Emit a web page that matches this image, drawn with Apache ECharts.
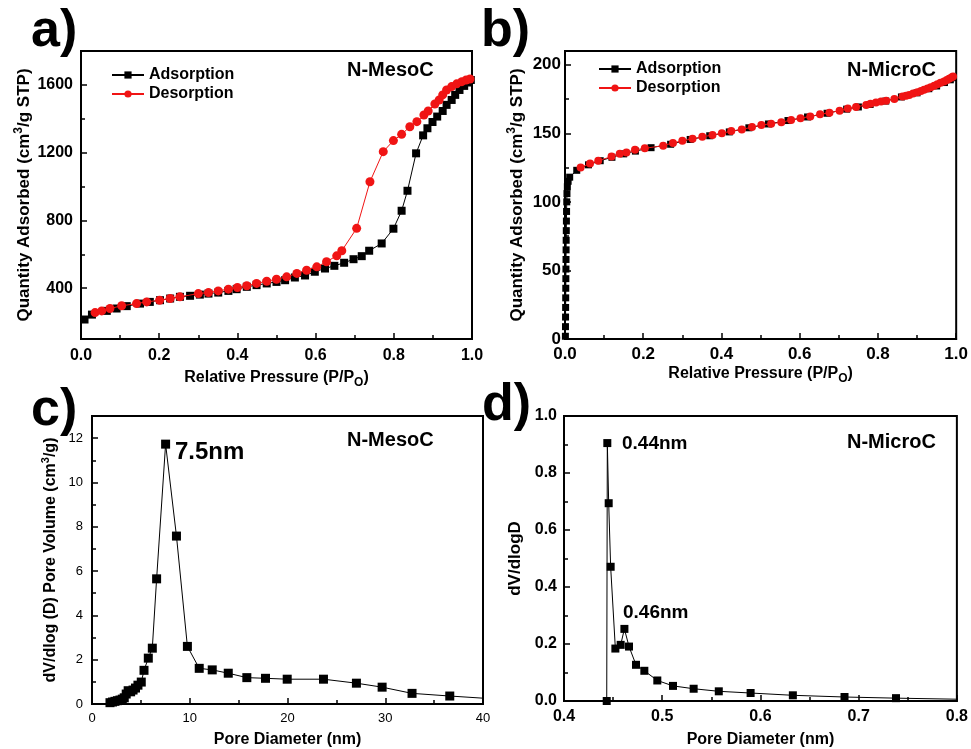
<!DOCTYPE html>
<html>
<head>
<meta charset="utf-8">
<script src="https://cdn.jsdelivr.net/npm/echarts@6/dist/echarts.min.js"></script>
<style>
  html, body { margin: 0; background: #fff; }
  #main { width: 971px; height: 749px; }
</style>
</head>
<body>
<div id="main"></div>
<script>
// a) N-MesoC isotherm
const mesoAdsX = [0.009, 0.028, 0.066, 0.091, 0.117, 0.151, 0.176, 0.202, 0.228, 0.253, 0.279, 0.304, 0.326, 0.351, 0.377, 0.398, 0.424, 0.449, 0.475, 0.50, 0.522, 0.547, 0.573, 0.598, 0.624, 0.648, 0.673, 0.697, 0.718, 0.737, 0.769, 0.799, 0.82, 0.835, 0.857, 0.875, 0.886, 0.899, 0.911, 0.925, 0.935, 0.948, 0.957, 0.968, 0.980, 0.991, 0.997];
const mesoAdsY = [215, 244, 266, 280, 294, 309, 319, 329, 339, 349, 355, 362, 368, 374, 384, 394, 408, 418, 428, 437, 447, 463, 475, 497, 516, 532, 550, 571, 589, 621, 664, 751, 857, 975, 1196, 1302, 1344, 1381, 1413, 1446, 1482, 1511, 1541, 1570, 1594, 1614, 1629];
const mesoDesX = [0.036, 0.053, 0.074, 0.104, 0.142, 0.168, 0.201, 0.228, 0.253, 0.30, 0.326, 0.351, 0.377, 0.40, 0.424, 0.449, 0.475, 0.50, 0.526, 0.552, 0.577, 0.603, 0.628, 0.654, 0.667, 0.705, 0.739, 0.773, 0.799, 0.820, 0.841, 0.859, 0.877, 0.888, 0.905, 0.916, 0.925, 0.935, 0.948, 0.961, 0.974, 0.985, 0.995];
const mesoDesY = [256, 266, 280, 296, 309, 319, 329, 339, 349, 368, 374, 384, 394, 404, 414, 428, 441, 453, 467, 487, 506, 526, 556, 591, 621, 753, 1028, 1206, 1271, 1308, 1353, 1383, 1422, 1446, 1487, 1511, 1541, 1570, 1590, 1606, 1619, 1629, 1635];

// b) N-MicroC isotherm
const microAdsX = [0.001, 0.0012, 0.0014, 0.0016, 0.0018, 0.002, 0.0022, 0.0024, 0.0026, 0.0028, 0.003, 0.0033, 0.0036, 0.004, 0.0045, 0.005, 0.006, 0.008, 0.012, 0.03, 0.06, 0.09, 0.12, 0.15, 0.18, 0.22, 0.27, 0.32, 0.37, 0.42, 0.47, 0.52, 0.57, 0.62, 0.67, 0.72, 0.75, 0.78, 0.82, 0.86, 0.9, 0.93, 0.95, 0.97, 0.985, 0.993];
const microAdsY = [2, 9, 16, 23, 30, 37, 44, 51, 58, 65, 72, 79, 86, 93, 100, 106, 111, 115, 118, 123, 127, 130, 132.5, 135, 137, 139.5, 142, 145.5, 148.2, 151, 154, 156.8, 159.3, 161.9, 164.6, 167.6, 169.2, 171, 173.5, 176.5, 179.5, 182.5, 184.5, 187, 189, 190.5];
const microDesX = [0.040, 0.064, 0.085, 0.119, 0.140, 0.157, 0.179, 0.204, 0.251, 0.276, 0.300, 0.326, 0.351, 0.377, 0.401, 0.425, 0.452, 0.478, 0.502, 0.527, 0.553, 0.578, 0.602, 0.627, 0.652, 0.676, 0.702, 0.723, 0.744, 0.770, 0.781, 0.795, 0.808, 0.821, 0.842, 0.863, 0.872, 0.880, 0.890, 0.901, 0.910, 0.918, 0.927, 0.935, 0.944, 0.952, 0.960, 0.969, 0.976, 0.982, 0.988, 0.992];
const microDesY = [125, 128, 130, 133, 135, 136, 138, 139, 141, 143, 144.5, 146, 147.4, 148.7, 150, 151.6, 152.8, 154.5, 156, 157, 158, 159.7, 161, 162.3, 163.8, 165, 166.5, 168, 169.2, 170.7, 171.5, 172.4, 173.1, 173.8, 175, 176.8, 177.4, 178, 179, 180, 180.8, 181.7, 182.6, 183.6, 184.7, 185.8, 186.8, 187.8, 188.8, 189.7, 190.6, 191.4];

// c) N-MesoC pore size distribution
const mesoPoreD = [1.84, 2.1, 2.35, 2.6, 2.86, 3.1, 3.3, 3.5, 3.7, 3.95, 4.2, 4.45, 4.7, 5.04, 5.32, 5.76, 6.17, 6.61, 7.53, 8.64, 9.76, 10.97, 12.3, 13.94, 15.84, 17.75, 19.97, 23.68, 27.05, 29.68, 32.74, 36.6, 41.5];
const mesoPoreV = [0.06, 0.09, 0.12, 0.15, 0.18, 0.22, 0.28, 0.45, 0.6, 0.55, 0.63, 0.72, 0.85, 0.99, 1.52, 2.07, 2.52, 5.65, 11.73, 7.58, 2.6, 1.61, 1.54, 1.39, 1.19, 1.16, 1.12, 1.12, 0.94, 0.76, 0.48, 0.36, 0.22];

// d) N-MicroC pore size distribution
const microPoreD = [0.4435, 0.4441, 0.4455, 0.4475, 0.4523, 0.4577, 0.4615, 0.4662, 0.4733, 0.4818, 0.495, 0.511, 0.532, 0.5576, 0.590, 0.633, 0.6856, 0.738, 0.805];
const microPoreV = [0, 0.905, 0.694, 0.471, 0.184, 0.197, 0.253, 0.191, 0.127, 0.106, 0.072, 0.053, 0.043, 0.034, 0.028, 0.020, 0.014, 0.010, 0.006];

// tick values
const pressTicks = [0, 0.2, 0.4, 0.6, 0.8, 1.0];
const pressMinor = [0.1, 0.3, 0.5, 0.7, 0.9];
const mesoQTicks = [400, 800, 1200, 1600];
const mesoQMinor = [200, 600, 1000, 1400, 1800];
const microQTicks = [0, 50, 100, 150, 200];
const microQMinor = [25, 75, 125, 175];
const mesoDTicks = [0, 10, 20, 30, 40];
const mesoDMinor = [5, 15, 25, 35];
const mesoVTicks = [0, 2, 4, 6, 8, 10, 12];
const mesoVMinor = [1, 3, 5, 7, 9, 11];
const microDTicks = [0.4, 0.5, 0.6, 0.7, 0.8];
const microDMinor = [0.45, 0.55, 0.65, 0.75];
const microVTicks = [0, 0.2, 0.4, 0.6, 0.8, 1.0];
const microVMinor = [0.1, 0.3, 0.5, 0.7, 0.9];

const FONT = '"Liberation Sans", Arial, sans-serif';
const RED = '#f01414';

function zip(xs, ys) { return xs.map((x, i) => [x, ys[i]]); }

// main axis with labels + major ticks
function axis(grid, pos, min, max, ticks, lab, name) {
  const a = {
    type: 'value', gridIndex: grid, position: pos, min: min, max: max,
    axisLine: { show: true, onZero: false, lineStyle: { color: '#000', width: 2 } },
    axisTick: { show: true, inside: true, length: 6, customValues: ticks, lineStyle: { color: '#000', width: 1.5 } },
    axisLabel: {
      show: true, customValues: ticks, color: '#000', fontFamily: FONT,
      fontSize: lab.size, fontWeight: lab.weight, margin: lab.margin,
      formatter: v => lab.dec ? v.toFixed(lab.dec) : String(Math.round(v))
    },
    splitLine: { show: false }
  };
  if (name) Object.assign(a, name);
  return a;
}
// overlay axis carrying only the minor ticks
function minorAxis(grid, pos, min, max, ticks) {
  return {
    type: 'value', gridIndex: grid, position: pos, min: min, max: max,
    axisLine: { show: false, onZero: false },
    axisTick: { show: true, inside: true, length: 4, customValues: ticks, lineStyle: { color: '#000', width: 1.5 } },
    axisLabel: { show: false },
    splitLine: { show: false }
  };
}

function richName(text, size, gap) {
  return {
    name: text, nameLocation: 'middle', nameGap: gap,
    nameTextStyle: {
      rich: {
        b: { fontFamily: FONT, fontSize: size, fontWeight: 'bold', color: '#000', lineHeight: size + 6 },
        p: { fontFamily: FONT, fontSize: size - 5, fontWeight: 'bold', color: '#000', verticalAlign: 'top', lineHeight: size - 4 },
        s: { fontFamily: FONT, fontSize: size - 4, fontWeight: 'bold', color: '#000', verticalAlign: 'bottom', lineHeight: size - 3 }
      }
    }
  };
}

const boldLab = (size, margin, dec) => ({ size: size, weight: 'bold', margin: margin, dec: dec });

const grids = [
  { left: 81, top: 51, width: 391, height: 288 },
  { left: 565, top: 51, width: 392, height: 288 },
  { left: 92, top: 416, width: 391, height: 288 },
  { left: 564, top: 416, width: 393, height: 288 }
].map(g => Object.assign(g, { show: true, borderColor: '#000', borderWidth: 2, containLabel: false }));

const xAxes = [
  axis(0, 'bottom', 0, 1, pressTicks, boldLab(16, 9, 1), richName('{b|Relative Pressure (P/P}{s|O}{b|)}', 16, 28)),
  axis(1, 'bottom', 0, 1, pressTicks, boldLab(17, 7, 1), richName('{b|Relative Pressure (P/P}{s|O}{b|)}', 16, 24)),
  axis(2, 'bottom', 0, 40, mesoDTicks, { size: 13, weight: 'normal', margin: 8 }, richName('{b|Pore Diameter (nm)}', 16, 25)),
  axis(3, 'bottom', 0.4, 0.8, microDTicks, boldLab(16, 8, 1), richName('{b|Pore Diameter (nm)}', 16, 28)),
  minorAxis(0, 'bottom', 0, 1, pressMinor),
  minorAxis(1, 'bottom', 0, 1, pressMinor),
  minorAxis(2, 'bottom', 0, 40, mesoDMinor),
  minorAxis(3, 'bottom', 0.4, 0.8, microDMinor)
];
const yAxes = [
  axis(0, 'left', 100, 1800, mesoQTicks, boldLab(16, 8), richName('{b|Quantity Adsorbed (cm}{p|3}{b|/g STP)}', 17, 45)),
  axis(1, 'left', 0, 210, microQTicks, boldLab(17, 4), richName('{b|Quantity Adsorbed (cm}{p|3}{b|/g STP)}', 17, 36)),
  axis(2, 'left', 0, 13, mesoVTicks, { size: 13, weight: 'normal', margin: 9 }, richName('{b|dV/dlog (D) Pore Volume (cm}{p|3}{b|/g)}', 16, 30)),
  axis(3, 'left', 0, 1, microVTicks, boldLab(16, 7, 1), richName('{b|dV/dlogD}', 17, 37)),
  minorAxis(0, 'left', 100, 1800, mesoQMinor),
  minorAxis(1, 'left', 0, 210, microQMinor),
  minorAxis(2, 'left', 0, 13, mesoVMinor),
  minorAxis(3, 'left', 0, 1, microVMinor)
];

function line(name, idx, xs, ys, color, symbol, size, z) {
  return {
    type: 'line', name: name, xAxisIndex: idx, yAxisIndex: idx,
    data: zip(xs, ys), symbol: symbol, symbolSize: size, showSymbol: true,
    itemStyle: { color: color }, lineStyle: { color: color, width: 1 },
    z: z, clip: true, silent: true
  };
}

const series = [
  line('Adsorption', 0, mesoAdsX, mesoAdsY, '#000', 'rect', 8, 2),
  line('Desorption', 0, mesoDesX, mesoDesY, RED, 'circle', 9, 3),
  line('Adsorption', 1, microAdsX, microAdsY, '#000', 'rect', 7, 2),
  line('Desorption', 1, microDesX, microDesY, RED, 'circle', 8, 3),
  line('PSD-Meso', 2, mesoPoreD, mesoPoreV, '#000', 'rect', 9, 2),
  line('PSD-Micro', 3, microPoreD, microPoreV, '#000', 'rect', 8, 2)
];

const legendText = { fontFamily: FONT, fontSize: 16, fontWeight: 'bold', color: '#000' };
const legends = [
  { left: 106, top: 62, orient: 'vertical', itemGap: 3, itemWidth: 32, itemHeight: 9, data: ['Adsorption', 'Desorption'], textStyle: legendText, selectedMode: false },
  { left: 593, top: 56, orient: 'vertical', itemGap: 3, itemWidth: 32, itemHeight: 9, data: ['Adsorption', 'Desorption'], textStyle: legendText, selectedMode: false }
];

function txt(t, left, top, size, weight) {
  return { type: 'text', left: left, top: top, style: { text: t, fontFamily: FONT, fontSize: size, fontWeight: weight || 'bold', fill: '#000' } };
}

const graphic = [
  txt('a)', 31, 6, 52),
  txt('b)', 481, 6, 52),
  txt('c)', 31, 385, 52),
  txt('d)', 482, 380, 52),
  txt('N-MesoC', 347, 60, 20),
  txt('N-MicroC', 847, 60, 20),
  txt('N-MesoC', 347, 430, 20),
  txt('N-MicroC', 847, 432, 20),
  txt('7.5nm', 175, 440, 24),
  txt('0.44nm', 622, 434, 19),
  txt('0.46nm', 623, 603, 19)
];

const chart = echarts.init(document.getElementById('main'));
chart.setOption({
  backgroundColor: '#fff',
  animation: false,
  grid: grids,
  xAxis: xAxes,
  yAxis: yAxes,
  legend: legends,
  series: series,
  graphic: graphic
});
</script>
</body>
</html>
